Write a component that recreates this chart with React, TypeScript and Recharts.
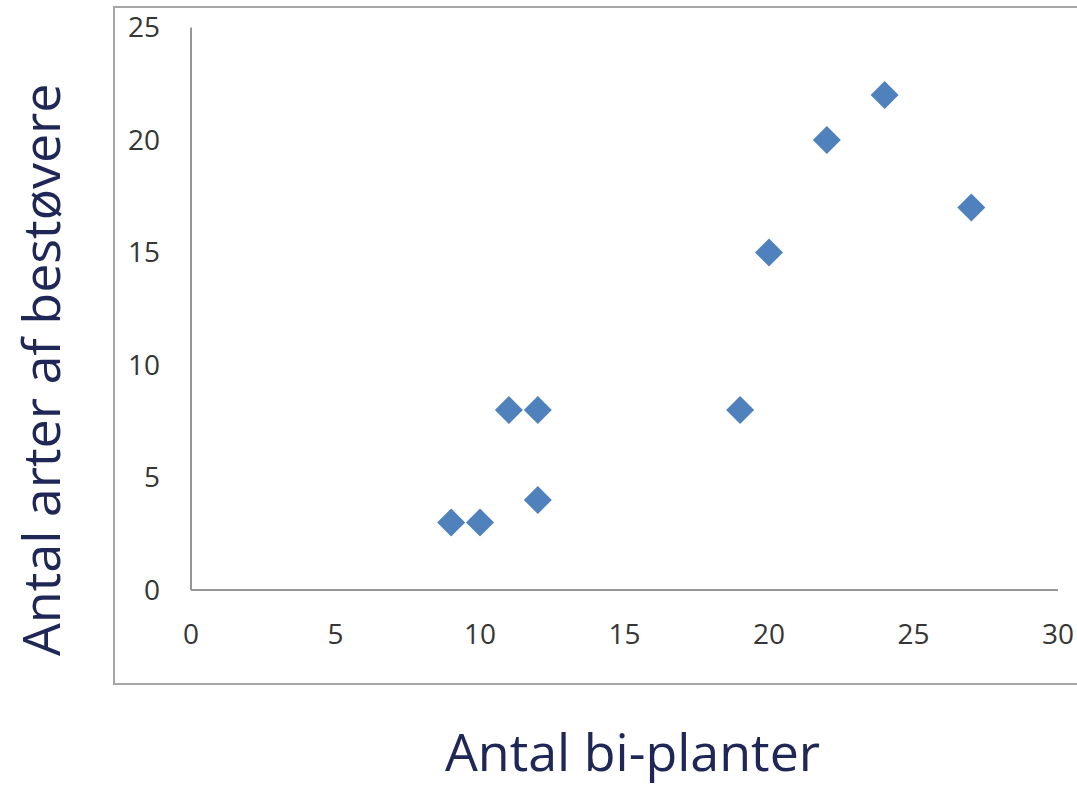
import React from "react";
import { ScatterChart, Scatter, XAxis, YAxis, Label } from "recharts";

const xValues = [9, 10, 11, 12, 12, 19, 20, 22, 24, 27];
const yValues = [3, 3, 8, 8, 4, 8, 15, 20, 22, 17];
const xTicks = [0, 5, 10, 15, 20, 25, 30];
const yTicks = [0, 5, 10, 15, 20, 25];
const xTitle = "Antal bi-planter";
const yTitle = "Antal arter af bestøvere";

const data = xValues.map((x, i) => ({ x, y: yValues[i] }));

const MARKER = "#4F81BD";
const TITLE_COLOR = "#1F2757";
const AXIS_COLOR = "#969696";
const TICK_STYLE = { fontFamily: "Open Sans", fontSize: 28, fill: "#363636" };
const TITLE_FONT = "Open Sans";

const Diamond = (props: any) => {
  const { cx, cy } = props;
  const r = 14;
  return (
    <polygon
      points={`${cx},${cy - r} ${cx + r},${cy} ${cx},${cy + r} ${cx - r},${cy}`}
      fill={MARKER}
    />
  );
};

const XTitle = (props: any) => {
  const vb = props.viewBox;
  return (
    <text
      x={vb.x + vb.width / 2 + 8}
      y={771}
      textAnchor="middle"
      fontFamily={TITLE_FONT}
      fontSize={52}
      fill={TITLE_COLOR}
    >
      {xTitle}
    </text>
  );
};

const YTitle = (props: any) => {
  const vb = props.viewBox;
  const cx = 60;
  const cy = vb.y + vb.height / 2 + 61;
  return (
    <text
      x={cx}
      y={cy}
      transform={`rotate(-90, ${cx}, ${cy})`}
      textAnchor="middle"
      fontFamily={TITLE_FONT}
      fontSize={52}
      fill={TITLE_COLOR}
    >
      {yTitle}
    </text>
  );
};

export default function App() {
  return (
    <div
      style={{
        position: "absolute",
        left: 0,
        top: 0,
        width: 1077,
        height: 787,
        overflow: "hidden",
        background: "#fff",
      }}
    >
      <div
        style={{
          position: "absolute",
          left: 113,
          top: 6,
          width: 1100,
          height: 675,
          border: "2px solid #A6A6A6",
        }}
      />
      <div style={{ position: "absolute", left: 0, top: 0 }}>
        <ScatterChart
          width={1077}
          height={787}
          margin={{ top: 27.5, right: 19, bottom: 147, left: 0 }}
        >
          <XAxis
            type="number"
            dataKey="x"
            domain={[0, 30]}
            ticks={xTicks}
            interval={0}
            height={50}
            axisLine={{ stroke: AXIS_COLOR, strokeWidth: 2 }}
            tickLine={false}
            tickSize={0}
            tickMargin={34}
            tick={TICK_STYLE}
          >
            <Label content={<XTitle />} />
          </XAxis>
          <YAxis
            type="number"
            dataKey="y"
            domain={[0, 25]}
            ticks={yTicks}
            interval={0}
            width={191}
            axisLine={{ stroke: AXIS_COLOR, strokeWidth: 2 }}
            tickLine={false}
            tickSize={0}
            tickMargin={31}
            tick={TICK_STYLE}
          >
            <Label content={<YTitle />} />
          </YAxis>
          <Scatter data={data} shape={<Diamond />} isAnimationActive={false} />
        </ScatterChart>
      </div>
    </div>
  );
}
